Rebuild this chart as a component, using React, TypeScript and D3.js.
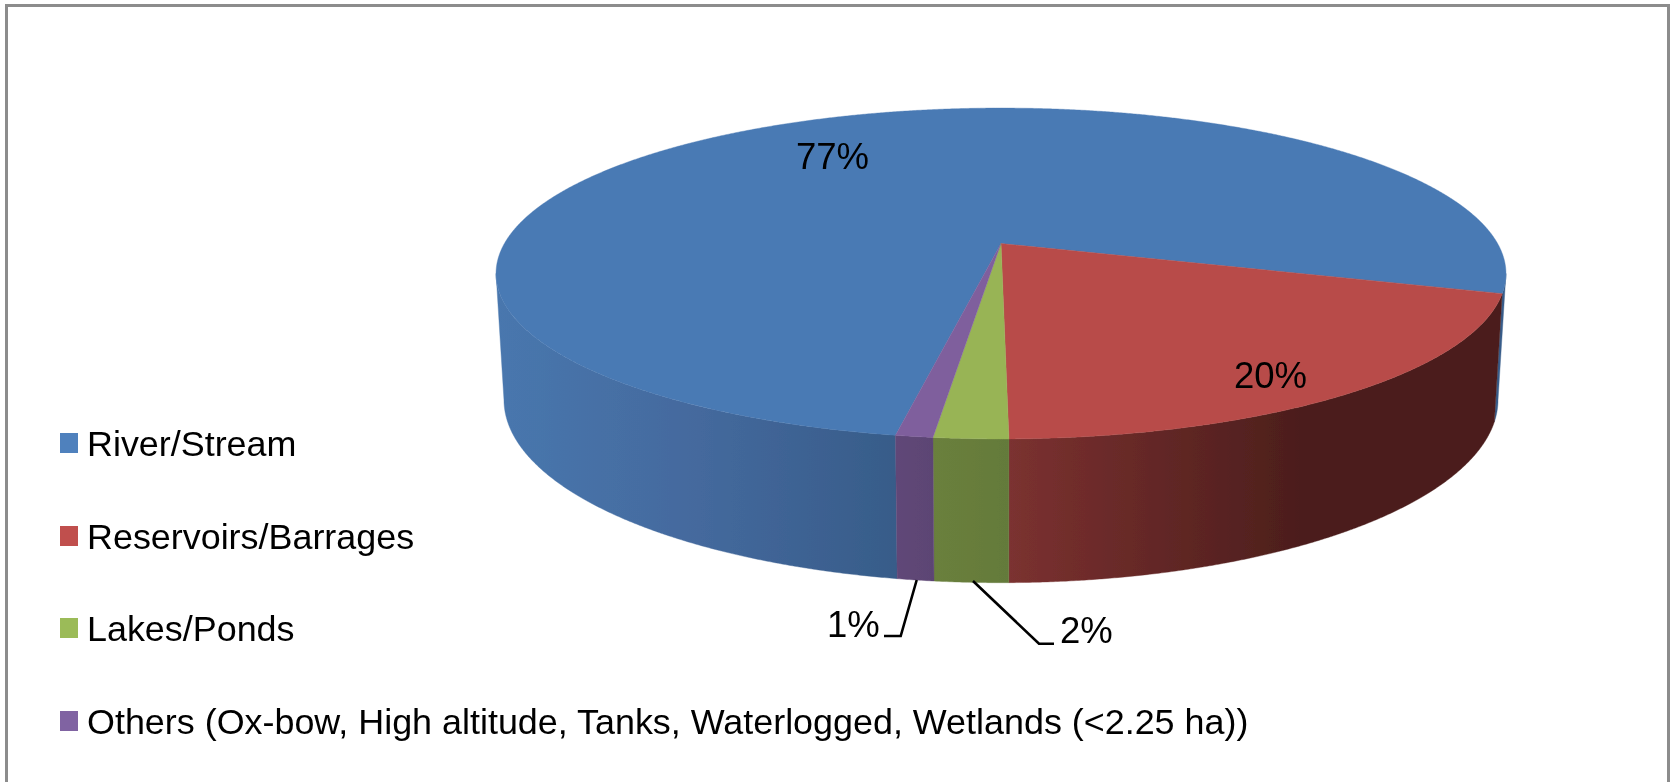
import React from "react";
import * as d3 from "d3";

const categories = ["River/Stream", "Reservoirs/Barrages", "Lakes/Ponds", "Others (Ox-bow, High altitude, Tanks, Waterlogged, Wetlands (<2.25 ha))"];
const values = [77, 20, 2, 1];
const labels = ["77%", "20%", "2%", "1%"];
const topColors = ["#4a7ab4", "#b84c49", "#98b455", "#7f5f9d"];
const legendColors = ["#4f81bd", "#c0504d", "#9bbb59", "#8064a2"];
const sideStops: [number, string][][] = [
  [[496, "#4877ae"], [700, "#44699d"], [897, "#375c89"]],
  [[1009, "#7b3130"], [1300, "#4c1e1c"], [1505, "#4c1e1c"]],
  [[933, "#6a803c"], [1009, "#647a3a"], [1010, "#647a3a"]],
  [[896, "#604778"], [934, "#5c4573"], [935, "#5c4573"]],
];

const W = 1670, H = 782;
const FONT = "'Liberation Sans', Arial, sans-serif";
const deg = Math.PI / 180;
const k = 0.1813; // perspective strength
const top = { cx: 1001, cy: 243.5, rx: 496.6, ry: 160 };
const bot = { cx: 1001, cy: 366.5, rx: 488.8, ry: 177 };
const startAngle = -169.95 * deg;

const project = (f: typeof top, a: number): [number, number] => {
  const u = Math.sin(a), v = -Math.cos(a), w = 1 - k * v;
  return [f.cx + (f.rx * u) / w, f.cy + (f.ry * v) / w];
};

const pieGen = d3.pie<number>().sort(null).startAngle(startAngle).endAngle(startAngle + 2 * Math.PI);
const arcs = pieGen(values);
const line = d3.line();
const sample = (a0: number, a1: number) => {
  const n = Math.max(2, Math.ceil(Math.abs(a1 - a0) / (0.25 * deg)));
  return d3.range(n + 1).map((i) => a0 + ((a1 - a0) * i) / n);
};

const silhouette = Math.acos(-k);
const visible: [number, number][] = [
  [silhouette, 2 * Math.PI - silhouette],
  [-(2 * Math.PI - silhouette), -silhouette],
];

const topPath = (a0: number, a1: number) =>
  line([[top.cx, top.cy], ...sample(a0, a1).map((a) => project(top, a))])! + "Z";

const sidePaths = (a0: number, a1: number) =>
  visible
    .map(([l, h]) => [Math.max(a0, l), Math.min(a1, h)])
    .filter(([l, h]) => h > l)
    .map(([l, h]) => {
      const s = sample(l, h);
      return line([...s.map((a) => project(top, a)), ...s.slice().reverse().map((a) => project(bot, a))])! + "Z";
    });

const legendBaselines = [456, 549, 641, 734];
const legendSwatchTops = [433, 526, 618, 711];
const legendFont = 35.9;
const labelFont = 36.5;

const labelPos: [number, number][] = [
  [796, 168.5],
  [1234, 388],
  [1060, 642.7],
  [827, 637],
];
const leaders: [number, number][][] = [
  [[973, 581], [1039, 643.7], [1054, 643.7]],
  [[916.7, 580], [900.7, 636], [884, 636]],
];

export default function App() {
  return (
    <svg width={W} height={H} viewBox={`0 0 ${W} ${H}`}
      style={{ position: "fixed", left: 0, top: 0, background: "#fff", fontFamily: FONT }}>
      <defs>
        {sideStops.map((stops, i) => {
          const x = d3.scaleLinear().domain([stops[0][0], stops[stops.length - 1][0]]).range([0, 100]);
          return (
            <linearGradient key={i} id={`side${i}`} gradientUnits="userSpaceOnUse"
              x1={stops[0][0]} x2={stops[stops.length - 1][0]} y1={0} y2={0}>
              {stops.map(([p, c], j) => <stop key={j} offset={`${x(p)}%`} stopColor={c} />)}
            </linearGradient>
          );
        })}
        <filter id="soft" x="0" y="0" width="100%" height="100%" filterUnits="userSpaceOnUse" primitiveUnits="userSpaceOnUse">
          <feGaussianBlur stdDeviation={0.55} />
        </filter>
      </defs>
      <g filter="url(#soft)">
        <rect width={W} height={H} fill="#fff" />
        <path d={`M6.5,${H + 5}V5.5H1668.5V${H + 5}`} fill="none" stroke="#8c8c8c" strokeWidth={3} />
        {arcs.map((d, i) => sidePaths(d.startAngle, d.endAngle).map((p, j) => (
          <path key={`${i}-${j}`} d={p} fill={`url(#side${i})`} stroke={`url(#side${i})`} strokeWidth={0.4} />
        )))}
        {arcs.map((d, i) => (
          <path key={i} d={topPath(d.startAngle, d.endAngle)} fill={topColors[i]} stroke={topColors[i]} strokeWidth={0.4} />
        ))}
        {leaders.map((pts, i) => (
          <path key={i} d={line(pts)!} fill="none" stroke="#000" strokeWidth={2.6} />
        ))}
        {labels.map((t, i) => (
          <text key={t} x={labelPos[i][0]} y={labelPos[i][1]} fontSize={labelFont} fill="#000">{t}</text>
        ))}
        {categories.map((c, i) => (
          <g key={c}>
            <rect x={60} y={legendSwatchTops[i]} width={18} height={20} fill={legendColors[i]} />
            <text x={87} y={legendBaselines[i]} fontSize={legendFont} fill="#000">{c}</text>
          </g>
        ))}
      </g>
    </svg>
  );
}
